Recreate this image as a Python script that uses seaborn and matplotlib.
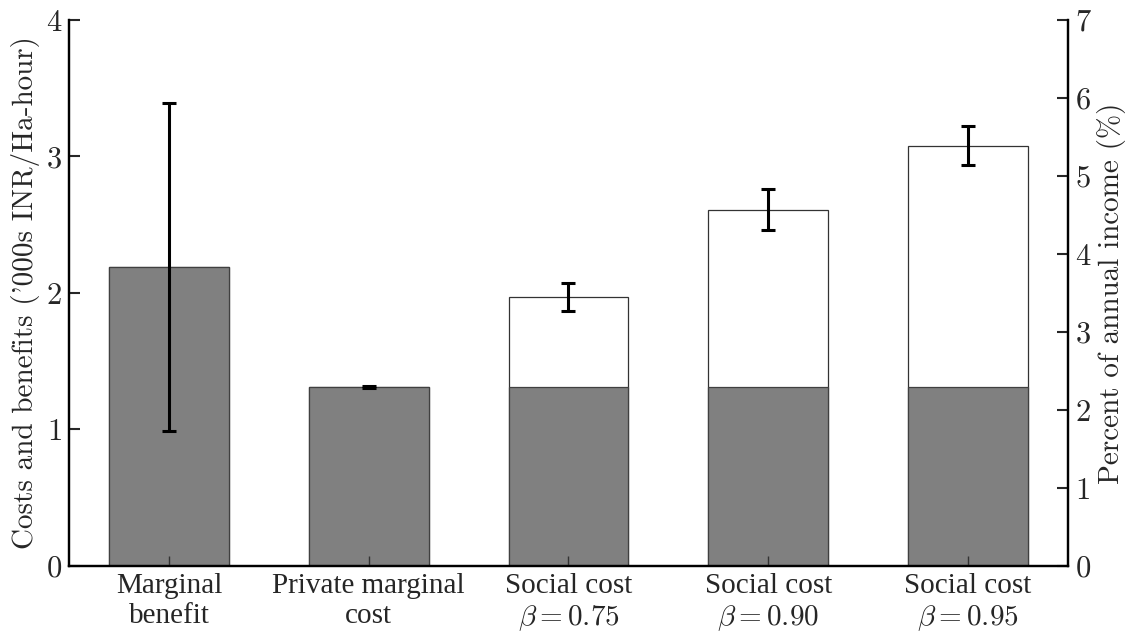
import numpy as np
import pandas as pd
import matplotlib
matplotlib.use('Agg')
import matplotlib.pyplot as plt
import seaborn as sns

# Valores ('000s INR/Ha-hour)
categorias = ['Marginal\nbenefit', 'Private marginal\ncost',
              'Social cost\n$\\beta = 0.75$', 'Social cost\n$\\beta = 0.90$',
              'Social cost\n$\\beta = 0.95$']
base = [2.19, 1.31, 1.31, 1.31, 1.31]
total = [2.19, 1.31, 1.97, 2.61, 3.08]
erro = [1.20, 0.005, 0.105, 0.15, 0.14]

sns.set_style('white')
plt.rcParams['font.family'] = ['Liberation Serif', 'DejaVu Serif']
plt.rcParams['mathtext.fontset'] = 'cm'
plt.rcParams['axes.formatter.use_mathtext'] = True

dados = pd.DataFrame({'cat': categorias, 'base': base, 'total': total, 'erro': erro})

fig = plt.figure(figsize=(11.33, 6.37), dpi=100)
ax = fig.add_axes([0.0609, 0.1115, 0.8817, 0.8571])

# parte branca (total) por baixo, parte cinza por cima
sns.barplot(data=dados, x='cat', y='total', color='white', saturation=1,
            width=0.6, edgecolor='#333333', linewidth=0.9, ax=ax)
sns.barplot(data=dados, x='cat', y='base', color='#808080', saturation=1,
            width=0.6, edgecolor='#404040', linewidth=0.9, ax=ax)
ax.errorbar(np.arange(len(categorias)), dados['total'], yerr=dados['erro'],
            fmt='none', ecolor='black', elinewidth=2.2, capsize=5, capthick=2.2)

ax.set_axisbelow(False)
ax.set_xlim(-0.5, 4.5)
ax.set_ylim(0, 4)
ax.set_yticks([0, 1, 2, 3, 4])
ax.set_xlabel('')
ax.set_ylabel("Costs and benefits ('000s INR/Ha-hour)", family='cmr10', fontsize=21, labelpad=4)
ax.tick_params(axis='x', bottom=True, direction='in', length=7, width=1, color='#333333',
               labelsize=21, pad=5)
ax.tick_params(axis='y', left=True, direction='in', length=8, width=1.5, labelsize=22, pad=5)
for lbl in ax.get_yticklabels():
    lbl.set_family('cmr10')

ax2 = ax.twinx()
ax2.set_ylim(0, 7)
ax2.set_yticks(range(8))
ax2.set_ylabel('Percent of annual income (%)', family='cmr10', fontsize=21, labelpad=4)
ax2.tick_params(axis='y', right=True, direction='in', length=8, width=1.5, labelsize=22, pad=5)
for lbl in ax2.get_yticklabels():
    lbl.set_family('cmr10')

for a in (ax, ax2):
    a.spines['top'].set_visible(False)
    for s in ('left', 'right', 'bottom'):
        a.spines[s].set_linewidth(1.6)
        a.spines[s].set_color('black')

fig.savefig('out.png', dpi=100)
